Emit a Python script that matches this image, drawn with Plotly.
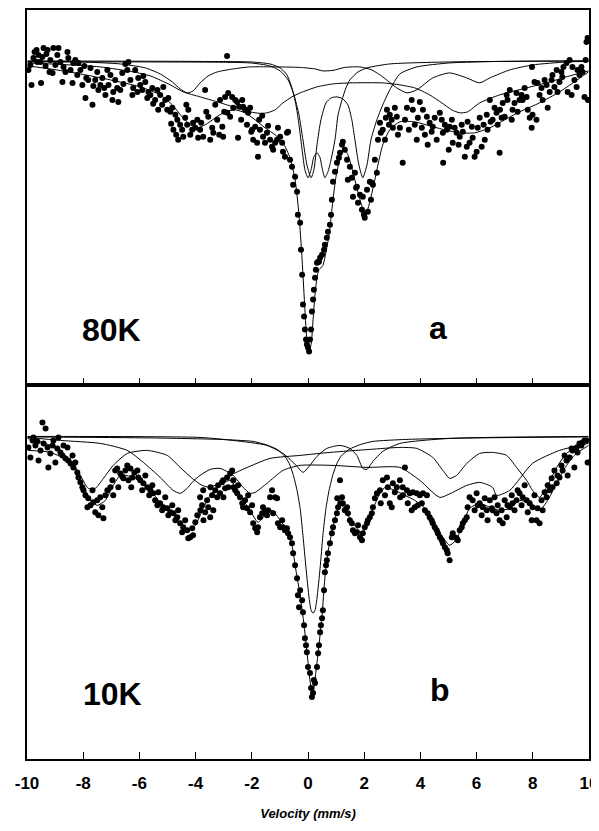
import plotly.graph_objects as go
from plotly.subplots import make_subplots

# ---------------- 80 K spectrum (panel a) ----------------
v_80K = [-9.95,-9.88,-9.84,-9.77,-9.73,-9.66,-9.63,-9.59,-9.52,-9.50,-9.45,-9.41,-9.34,-9.31,
 -9.27,-9.20,-9.17,-9.09,-9.06,-8.99,-8.92,-8.88,-8.81,-8.74,-8.70,-8.63,-8.56,-8.53,-8.45,
 -8.38,-8.35,-8.28,-8.21,-8.17,-8.10,-8.03,-7.96,-7.92,-7.89,-7.82,-7.74,-7.67,-7.64,-7.57,-7.50,-7.46,-7.39,
 -7.32,-7.25,-7.21,-7.14,-7.10,-7.03,-6.96,-6.93,-6.86,-6.79,-6.75,-6.68,-6.61,-6.57,-6.50,-6.43,-6.39,-6.32,-6.25,-6.22,
 -6.15,-6.07,-6.04,-5.97,-5.90,-5.86,-5.79,-5.72,-5.68,-5.61,-5.54,-5.51,-5.44,-5.36,-5.33,-5.26,-5.19,-5.15,-5.08,-5.01,
 -4.97,-4.90,-4.87,-4.83,-4.79,-4.72,-4.69,-4.65,-4.62,-4.55,-4.48,-4.44,-4.37,-4.33,-4.30,-4.26,-4.19,-4.12,-4.09,-4.01,-3.94,-3.91,-3.84,
 -3.80,-3.73,-3.66,-3.62,-3.55,-3.48,-3.41,-3.37,-3.30,-3.23,-3.16,-3.13,-3.05,-3.02,-2.98,
 -2.95,-2.88,-2.87,-2.84,-2.77,-2.70,-2.66,-2.59,-2.52,-2.49,-2.45,-2.38,-2.34,-2.31,-2.24,-2.17,-2.13,-2.06,-2.02,-1.99,-1.95,-1.88,-1.81,-1.78,-1.74,
 -1.71,-1.63,-1.60,-1.53,-1.46,-1.42,-1.35,-1.28,-1.24,-1.17,-1.10,-1.07,-0.99,-0.92,-0.89,-0.82,-0.75,-0.71,-0.64,-0.57,-0.53,-0.46,-0.39,-0.36,
 -0.28,-0.25,-0.21,-0.18,-0.14,-0.11,-0.07,-0.04,0.00,0.04,0.07,0.11,0.14,0.18,0.21,0.25,0.28,0.32,0.36,0.39,0.43,0.50,0.57,0.60,0.67,0.71,0.78,0.82,0.85,0.89,0.96,
 1.03,1.10,1.14,1.21,1.24,1.31,1.39,1.42,1.49,1.56,1.60,1.67,1.71,1.74,1.78,1.85,1.92,1.95,1.99,2.02,2.10,2.13,2.20,2.24,2.27,2.31,2.38,2.45,2.49,
 2.56,2.59,2.66,2.74,2.77,2.81,2.88,2.91,2.98,3.02,3.09,3.16,3.20,3.27,
 3.37,3.45,3.52,3.59,3.69,3.73,3.80,3.87,3.91,3.98,4.05,4.09,4.16,4.23,4.26,4.33,4.40,4.44,4.51,4.58,4.69,4.76,4.80,4.81,4.87,4.94,5.01,5.04,5.12,5.15,5.22,5.29,5.36,5.40,5.47,5.51,5.58,5.65,5.68,5.75,
 5.83,5.86,5.93,6.00,6.04,6.11,6.18,6.25,6.29,6.36,6.39,6.47,6.50,6.57,6.64,6.71,6.75,6.82,6.83,6.89,6.93,7.00,7.07,7.10,7.18,7.25,7.28,7.35,7.42,7.46,7.53,
 7.60,7.64,7.71,7.78,7.82,7.89,7.96,7.97,7.99,8.06,8.13,8.17,8.24,8.31,8.35,8.42,8.49,8.53,8.60,8.67,8.70,8.77,8.85,8.88,8.95,9.02,9.05,9.09,9.20,9.24,9.31,9.38,9.41,9.48,9.56,9.59,9.66,9.73,9.77,9.84,9.88,9.91,9.95,9.96]
t_80K = [991,996,976,1003,1009,1011,999,1006,999,978,1004,1013,995,1007,
 1011,989,1001,988,1013,996,1006,1013,999,979,994,989,1009,1003,991,
 978,998,1001,986,998,991,976,995,963,983,981,993,956,975,981,989,971,976,
 983,973,966,991,976,986,961,969,981,973,959,971,988,977,997,991,999,981,966,973,
 991,969,983,976,971,985,979,963,969,966,973,957,961,971,951,966,956,974,961,951,
 963,949,937,953,931,946,926,941,921,936,931,924,943,956,936,951,926,931,938,933,941,923,931,
 938,924,971,949,944,921,933,928,956,941,926,961,934,924,949,
 964,1005,948,968,944,964,953,961,959,923,954,941,961,954,951,936,948,953,929,931,921,934,918,904,941,
 931,945,924,918,928,935,921,914,911,918,921,933,924,918,909,904,928,929,901,894,876,884,869,846,
 838,811,786,756,744,731,721,716,713,709,721,731,749,761,771,783,791,798,799,799,803,806,811,816,823,829,836,846,861,879,889,
 898,903,908,916,919,911,901,881,894,883,864,888,873,874,858,866,851,864,846,843,871,849,879,861,878,876,901,888,921,
 938,928,931,921,943,951,936,946,941,933,953,944,926,933,
 898,941,953,931,961,951,936,921,943,959,933,951,926,944,916,938,929,934,943,921,948,941,928,898,936,931,911,934,941,918,933,928,916,924,936,929,904,914,939,918,
 934,923,904,909,933,943,914,936,921,946,931,961,939,941,953,948,936,908,951,943,958,944,966,961,971,941,951,958,968,949,961,
 966,961,973,964,951,943,933,994,946,979,941,978,966,973,961,981,976,953,969,981,986,974,991,969,979,989,984,994,998,969,1001,966,994,981,974,991,986,994,989,964,1001,1019,1023,961]

# fitted envelope and sub-spectra, 80 K
fit_v_80K = [-9.98,-9.17,-8.10,-7.03,-5.97,-5.26,-4.83,-4.48,-4.19,-3.94,-3.66,-3.30,-2.95,-2.59,-2.24,-1.88,-1.53,-1.17,-0.89,-0.64,-0.46,-0.32,-0.21,-0.11,-0.04,0.04,0.11,0.18,0.25,0.32,0.39,0.46,0.53,0.60,0.67,0.75,0.82,0.89,0.99,1.10,1.21,1.31,1.42,1.56,1.71,1.85,1.99,2.10,2.20,2.34,2.49,2.66,2.91,3.27,3.80,4.33,4.87,5.40,5.93,6.47,7.00,7.53,8.24,8.95,9.48,9.98]
fit_t_80K = [995,992,987,981,974,966,956,944,936,933,936,943,949,951,948,941,933,926,918,903,881,846,801,751,721,711,716,741,766,783,791,793,795,803,813,826,843,861,883,898,908,911,906,893,876,861,850,850,859,876,896,916,931,939,939,935,931,928,928,933,941,949,958,969,979,989]

d1_v_80K = [-9.98,-3.84,-2.06,-1.35,-0.99,-0.75,-0.57,-0.43,-0.32,-0.21,-0.11,0.00,0.11,0.21,0.32,0.43,0.50,0.60,0.71,0.82,0.96,1.07,1.21,1.35,1.49,1.78,2.10,2.91,5.04,9.98]
d1_t_80K = [1000,999.5,999,997,993,986,973,956,936,911,891,883,891,904,908,903,893,883,889,901,921,946,961,973,981,989,993,997,999,1000]

d2_v_80K = [-9.98,-5.61,-2.06,-1.35,-0.99,-0.71,-0.50,-0.32,-0.18,-0.04,0.11,0.21,0.32,0.46,0.64,0.82,1.03,1.24,1.42,1.56,1.67,1.81,1.95,2.10,2.24,2.45,2.66,2.91,3.27,3.87,5.04,6.82,9.98]
d2_t_80K = [999,999,998,995,990,981,966,946,921,896,883,891,916,941,958,963,964,962,956,941,921,896,883,896,921,941,956,971,987,994,998,999.5,1000]

s1_v_80K = [-9.98,-8.10,-6.68,-5.79,-5.26,-4.83,-4.55,-4.30,-4.09,-3.84,-3.55,-3.23,-2.66,-2.06,-1.10,-0.28,0.25,0.53,0.89,1.31,1.85,2.27,2.66,3.16,3.52,3.87,4.44,5.04,5.65,6.11,6.47,7.18,7.99,9.20,9.98]
s1_t_80K = [999.5,999,997,993,987,979,972,968,970,978,985,989,992,994,994,993.5,992,990,990.5,993.5,994,991,984,973,968,971,983,988,983,978,983,991,996,999,999.5]

s2_v_80K = [-9.98,-8.81,-7.39,-6.22,-5.61,-4.90,-4.44,-3.84,-3.23,-2.66,-2.06,-1.71,-1.46,-1.17,-0.89,-0.57,-0.28,0.32,0.89,1.49,2.66,3.27,3.80,4.33,4.76,5.12,5.40,5.68,6.11,6.82,7.78,8.60,9.31,9.98]
s2_t_80K = [998,996.5,994,989,985,976,969,964,959,954,949,947.5,948,951,958,964,968,974,977,978,978,976,973,966,958,951,948,949,958,966,973,979,985,990]

# ---------------- 10 K spectrum (panel b) ----------------
v_10K = [-9.95,-9.88,-9.80,-9.77,-9.70,-9.63,-9.59,-9.52,-9.45,-9.41,-9.34,-9.27,-9.24,-9.17,-9.09,-9.06,-8.99,-8.92,-8.88,-8.81,-8.74,-8.70,-8.63,-8.56,-8.53,-8.45,-8.38,-8.35,-8.28,
 -8.21,-8.17,-8.10,-8.03,-7.99,-7.92,-7.85,-7.82,-7.74,-7.67,-7.64,-7.57,-7.50,-7.46,-7.39,-7.32,-7.28,-7.21,-7.14,-7.03,-6.96,-6.93,-6.86,-6.79,-6.75,-6.68,-6.61,-6.57,-6.50,-6.43,-6.39,-6.32,-6.29,-6.25,-6.18,-6.07,-6.04,
 -5.97,-5.90,-5.86,-5.79,-5.72,-5.65,-5.61,-5.54,-5.51,-5.44,-5.36,-5.33,-5.26,-5.19,-5.15,-5.08,-5.01,-4.97,-4.90,-4.83,-4.79,-4.72,-4.65,-4.62,-4.55,-4.48,-4.44,-4.37,-4.30,-4.26,-4.19,-4.12,-4.09,-4.01,-3.94,
 -3.84,-3.83,-3.77,-3.73,-3.72,-3.66,-3.59,-3.55,-3.48,-3.47,-3.41,-3.37,-3.30,-3.23,-3.20,-3.13,-3.06,-3.02,-3.01,-2.95,-2.88,-2.84,-2.77,-2.70,-2.66,-2.65,-2.59,-2.52,-2.49,-2.42,-2.34,-2.31,-2.24,-2.17,-2.13,-2.06,-1.99,-1.95,-1.88,-1.81,-1.78,-1.71,-1.63,-1.60,-1.53,-1.46,-1.42,-1.35,-1.28,-1.24,-1.17,-1.10,-1.07,-0.99,-0.92,-0.89,-0.82,-0.75,-0.71,-0.64,-0.57,-0.53,-0.46,-0.39,-0.36,-0.32,
 -0.28,-0.21,-0.18,-0.14,-0.11,-0.07,-0.04,0.00,0.07,0.11,0.14,0.18,0.21,0.25,0.32,0.36,0.39,0.43,0.46,0.50,0.53,0.57,0.60,0.64,0.67,0.71,0.78,0.85,0.89,0.96,1.03,1.04,1.07,1.14,1.15,1.21,1.24,1.31,1.39,1.42,1.49,1.56,1.60,1.67,1.74,1.78,1.85,1.92,1.95,2.02,2.10,2.13,2.20,2.27,2.31,2.38,2.45,2.56,2.59,2.66,2.74,2.81,2.84,2.91,2.98,3.02,3.09,3.16,
 3.27,3.28,3.37,3.38,3.45,3.52,3.55,3.62,3.69,3.73,3.80,3.87,3.91,3.98,4.05,4.09,4.16,4.23,4.26,4.33,4.40,4.44,4.51,4.58,4.62,4.69,4.76,4.80,4.87,4.94,4.97,5.04,5.12,5.15,5.22,5.29,5.33,5.40,5.47,5.51,5.58,5.65,5.68,5.75,5.86,5.93,6.00,6.04,6.11,6.18,6.22,6.29,6.36,6.39,6.47,6.54,6.57,6.64,6.71,6.75,6.82,6.89,6.93,7.00,7.07,7.10,7.18,7.25,7.28,7.35,7.42,7.46,7.53,7.60,7.64,7.71,7.78,7.82,7.89,7.96,7.99,8.06,8.13,8.17,8.24,8.31,8.35,8.42,8.49,8.53,8.60,8.67,8.70,8.77,8.85,8.88,8.95,9.02,9.06,9.13,9.20,9.24,9.31,9.38,9.41,9.48,9.56,9.59,9.66,9.73,9.77,9.84,9.91,9.95]
t_10K = [988,978,995,998,990,994,975,985,1013,992,1007,988,968,982,990,995,973,987,998,983,980,990,977,988,975,972,980,968,973,
 963,958,953,948,945,940,928,937,930,945,933,923,935,920,938,928,917,940,945,948,955,940,965,967,948,962,959,957,965,970,955,967,948,958,963,965,958,
 955,945,952,960,948,940,945,950,942,935,930,943,932,925,928,938,927,920,923,930,922,915,918,925,912,903,908,915,905,897,898,907,900,913,920,
 938,925,930,945,915,923,935,928,918,948,940,925,945,938,950,942,953,955,938,947,958,948,962,965,955,948,945,942,950,938,932,928,935,927,940,923,930,912,907,903,908,918,922,928,923,920,925,938,945,922,938,937,912,908,915,908,905,907,902,898,892,882,870,857,840,828,
 845,835,823,810,797,790,783,768,762,747,738,742,755,752,768,782,790,803,810,817,825,845,863,870,875,882,892,902,908,915,922,937,928,955,932,938,932,925,928,922,915,912,905,902,903,910,898,895,902,908,912,915,918,922,928,937,942,945,932,955,940,958,948,932,928,952,943,948,
 955,938,948,940,968,945,932,942,925,943,928,942,930,940,932,942,925,940,922,918,915,912,908,905,902,898,895,892,888,885,882,875,898,902,898,897,895,905,908,912,915,918,928,938,935,925,942,930,932,920,928,937,925,915,935,927,925,938,922,930,915,925,912,935,918,930,928,940,932,925,935,945,942,930,938,950,935,923,932,915,928,940,915,927,912,935,925,943,938,950,945,957,948,965,952,960,958,970,965,980,975,960,978,987,985,968,988,983,992,990,993,995,995,973]

fit_v_10K = [-9.95,-9.17,-8.45,-8.10,-7.74,-7.50,-7.21,-6.93,-6.68,-6.32,-5.97,-5.61,-5.26,-4.90,-4.55,-4.26,-4.01,-3.73,-3.48,-3.13,-2.77,-2.42,-2.06,-1.78,-1.53,-1.28,-0.99,-0.75,-0.57,-0.43,-0.28,-0.14,0.00,0.11,0.18,0.28,0.39,0.50,0.60,0.71,0.85,0.99,1.14,1.28,1.49,1.74,1.92,2.10,2.27,2.49,2.74,3.09,3.45,3.80,4.16,4.51,4.80,5.04,5.26,5.47,5.75,6.11,6.47,6.82,7.18,7.53,7.89,8.24,8.53,8.81,9.13,9.48,9.98]
fit_t_10K = [985,983,973,955,935,930,935,950,960,959,955,945,933,923,913,905,910,927,940,950,955,940,925,913,920,925,915,905,890,865,840,810,773,747,742,763,790,820,857,883,903,920,930,928,917,907,902,910,923,938,948,945,940,935,927,912,898,890,895,908,927,932,928,925,927,935,932,925,935,950,967,980,990]

sg_v_10K = [-9.98,-5.61,-3.13,-1.95,-1.53,-1.10,-0.82,-0.67,-0.53,-0.39,-0.28,-0.18,-0.07,0.04,0.11,0.18,0.25,0.32,0.43,0.53,0.64,0.75,0.89,1.03,1.17,1.46,1.88,2.31,3.48,5.97,9.98]
sg_t_10K = [998.5,997.5,996,994,991,986,979,972,961,945,927,900,867,837,825,822,825,837,867,900,927,945,961,972,979,986,991,994,996,997.5,998.5]

dq_v_10K = [-9.98,-3.84,-2.66,-1.46,-0.89,-0.64,-0.39,-0.18,0.04,0.32,0.67,1.14,1.49,1.74,1.95,2.10,2.31,2.66,3.27,5.04,9.98]
dq_t_10K = [999,998,995,990,982,976,969,963,969,979,987,990,987,980,967,966,974,984,992,997,999]

sx_v_10K = [-9.98,-8.81,-7.39,-6.43,-5.86,-5.26,-4.80,-4.55,-4.30,-4.09,-3.84,-3.48,-3.13,-2.66,-2.31,-2.06,-1.88,-1.46,-0.89,-0.28,0.89,2.10,3.27,3.98,4.69,5.15,5.65,6.11,6.57,6.71,7.18,7.99,8.95,9.98]
sx_t_10K = [998,995,992,985,973,958,945,942,947,954,960,966,967,960,948,942,943,952,965,970,970,968,968,955,938,943,950,953,948,940,945,972,985,992]

sy_v_10K = [-9.98,-9.17,-8.45,-8.10,-7.82,-7.57,-7.28,-6.93,-6.43,-5.72,-5.01,-4.55,-4.12,-3.77,-3.48,-3.13,-2.77,-2.24,-1.35,-0.28,0.78,2.20,3.27,3.87,4.44,4.80,5.04,5.29,5.65,6.11,6.57,7.07,7.42,7.78,7.99,8.24,8.49,8.85,9.20,9.66,9.98]
sy_t_10K = [997,990,975,960,947,947,957,970,982,985,980,968,957,950,948,953,960,967,977,980,983,986,988,987,978,965,957,960,972,982,983,980,968,955,945,938,948,968,982,990,995]

tick_vals = [-10, -8, -6, -4, -2, 0, 2, 4, 6, 8, 10]
tick_text = ["-10", "-8", "-6", "-4", "-2", "0", "2", "4", "6", "8", "10"]

fig = make_subplots(rows=2, cols=1, vertical_spacing=0)

line_style = dict(color="black", width=1, shape="spline", smoothing=0.6)
marker_style = dict(color="black", size=6)

for row, curves, (vx, ty) in [
    (1, [(d1_v_80K, d1_t_80K), (d2_v_80K, d2_t_80K), (s1_v_80K, s1_t_80K), (s2_v_80K, s2_t_80K), (fit_v_80K, fit_t_80K)], (v_80K, t_80K)),
    (2, [(sg_v_10K, sg_t_10K), (dq_v_10K, dq_t_10K), (sx_v_10K, sx_t_10K), (sy_v_10K, sy_t_10K), (fit_v_10K, fit_t_10K)], (v_10K, t_10K)),
]:
    for cx, cy in curves:
        fig.add_trace(go.Scatter(x=cx, y=cy, mode="lines", line=line_style, hoverinfo="skip"), row=row, col=1)
    fig.add_trace(go.Scatter(x=vx, y=ty, mode="markers", marker=marker_style), row=row, col=1)

axis_common = dict(showline=True, linecolor="black", linewidth=2, mirror=True, showgrid=False,
                   zeroline=False, automargin=False)
fig.update_xaxes(range=[-10, 10], tickvals=tick_vals, ticktext=tick_text, ticks="inside", ticklen=7,
                 tickcolor="black", tickwidth=1, **axis_common)
fig.update_xaxes(showticklabels=False, row=1, col=1)
fig.update_xaxes(showticklabels=True, row=2, col=1, ticklabelstandoff=8,
                 tickfont=dict(family="Arial", size=17, color="black", weight="bold"),
                 title=dict(text="Velocity (mm/s)", standoff=16,
                            font=dict(family="Arial", size=13, color="black", weight="bold", style="italic")))
fig.update_yaxes(range=[676, 1051], showticklabels=False, ticks="", **axis_common)

ann_font = dict(family="Arial", size=32, color="black", weight="bold")
fig.add_annotation(x=-7.0, y=731, text="80K", showarrow=False, font=ann_font, xref="x", yref="y")
fig.add_annotation(x=4.62, y=733, text="a", showarrow=False, font=ann_font, xref="x", yref="y")
fig.add_annotation(x=-6.96, y=741, text="10K", showarrow=False, font=ann_font, xref="x2", yref="y2")
fig.add_annotation(x=4.69, y=745, text="b", showarrow=False, font=ann_font, xref="x2", yref="y2")

# the page body adds an 8 px offset, so the figure is sized to land the frame where the reference has it
fig.update_layout(width=591, height=815, margin=dict(l=19, r=10, t=2, b=64),
                  plot_bgcolor="white", paper_bgcolor="white", showlegend=False)

fig.write_html("out.html")
